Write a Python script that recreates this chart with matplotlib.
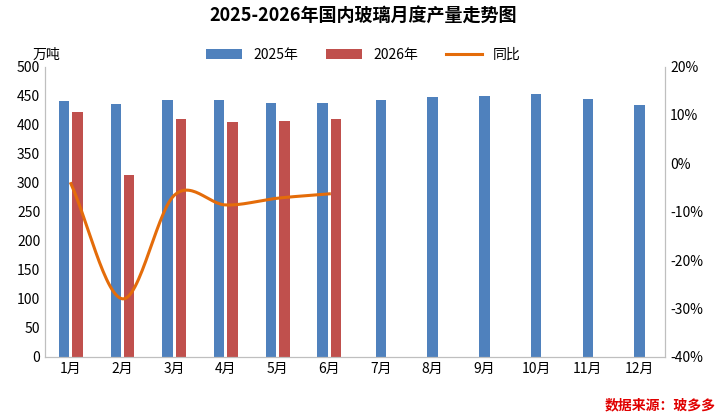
import numpy as np
import matplotlib.pyplot as plt

plt.rcParams['font.family'] = ['Noto Sans CJK SC', 'DejaVu Sans']

months = ['1月', '2月', '3月', '4月', '5月', '6月', '7月', '8月', '9月', '10月', '11月', '12月']
y2025 = [441, 436, 443, 443, 438, 438, 443, 447, 450, 452, 445, 434]
y2026 = [422, 314, 410, 405, 407, 410]
yoy = [-4.2, -28.0, -6.6, -8.6, -7.2, -6.3]


def catmull(xs, ys, n=30):
    # smooth line through the points, drawing only
    xs, ys = np.asarray(xs, float), np.asarray(ys, float)
    px = np.concatenate([[2 * xs[0] - xs[1]], xs, [2 * xs[-1] - xs[-2]]])
    py = np.concatenate([[2 * ys[0] - ys[1]], ys, [2 * ys[-1] - ys[-2]]])
    ox, oy = [], []
    t = np.linspace(0, 1, n)
    for i in range(1, len(px) - 2):
        for p, o in ((px, ox), (py, oy)):
            p0, p1, p2, p3 = p[i - 1:i + 3]
            o.extend(0.5 * (2 * p1 + (-p0 + p2) * t + (2 * p0 - 5 * p1 + 4 * p2 - p3) * t ** 2
                            + (-p0 + 3 * p1 - 3 * p2 + p3) * t ** 3))
    return ox, oy


fig, ax = plt.subplots(figsize=(7.27, 4.16), dpi=100)
fig.subplots_adjust(left=0.062, right=0.915, top=0.84, bottom=0.142)
x = np.arange(12)
w = 0.2
ax.bar(x[:6] - 0.13, y2025[:6], w, color='#4F81BD', label='2025年')
ax.bar(x[6:], y2025[6:], w, color='#4F81BD')
ax.bar(x[:6] + 0.13, y2026, w, color='#C0504D', label='2026年')
ax.set_ylim(0, 500)
ax.set_yticks(range(0, 501, 50))
ax.set_xlim(-0.5, 11.5)
ax.set_xticks(x)
ax.set_xticklabels(months)
ax.tick_params(length=0, labelsize=10)
ax.text(-0.02, 1.025, '万吨', transform=ax.transAxes, fontsize=10)

ax2 = ax.twinx()
sx, sy = catmull(x[:6], yoy)
ax2.plot(sx, sy, color='#E46C0A', lw=2.2, label='同比')
ax2.set_ylim(-40, 20)
ax2.set_yticks(range(-40, 21, 10))
ax2.set_yticklabels([f'{v}%' for v in range(-40, 21, 10)])
ax2.tick_params(length=0, labelsize=10)

for a in (ax, ax2):
    for s in a.spines.values():
        s.set_color('#BFBFBF')
    a.spines['top'].set_visible(False)

h1, l1 = ax.get_legend_handles_labels()
h2, l2 = ax2.get_legend_handles_labels()
fig.legend(h1 + h2, l1 + l2, loc='upper center', bbox_to_anchor=(0.5, 0.915), ncol=3,
           frameon=False, fontsize=10, handlelength=2.6)
fig.suptitle('2025-2026年国内玻璃月度产量走势图', fontsize=13, fontweight='bold', y=0.985)
fig.text(0.985, 0.015, '数据来源：玻多多', color='#E00000', fontsize=10, fontweight='bold',
         style='italic', ha='right')
fig.savefig('out.png')
